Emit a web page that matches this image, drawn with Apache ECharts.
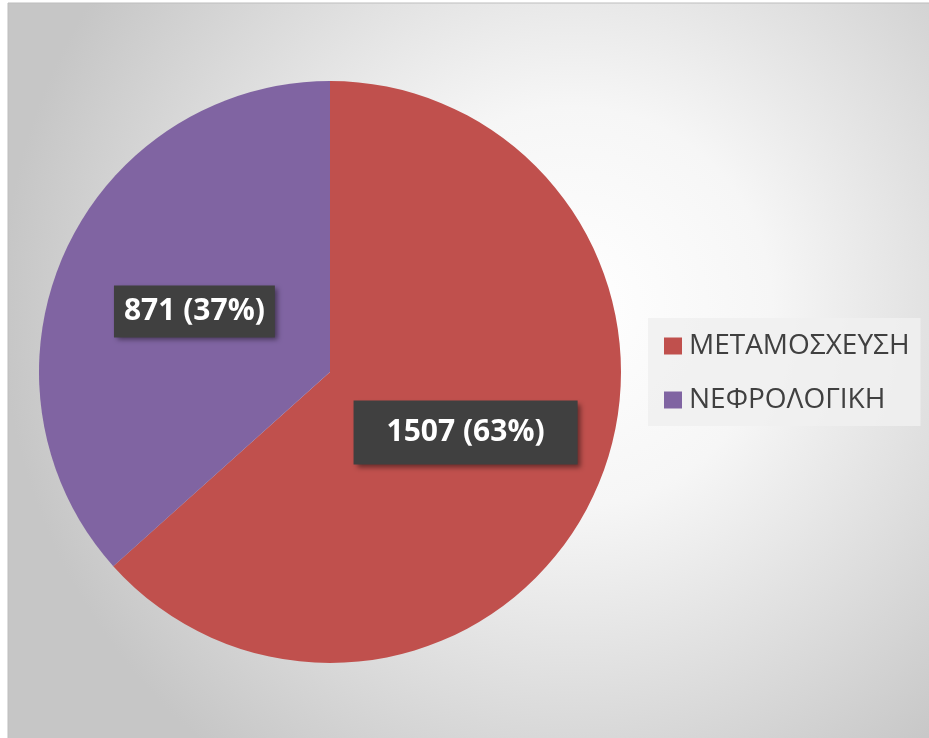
<!DOCTYPE html>
<html>
<head>
<meta charset="utf-8">
<script src="https://cdn.jsdelivr.net/npm/echarts@6/dist/echarts.min.js"></script>
<style>
  html, body { margin: 0; padding: 0; background: #fff; }
  #chart { width: 929px; height: 738px; }
</style>
</head>
<body>
<div id="chart"></div>
<script>
// data
const categories = ['ΜΕΤΑΜΟΣΧΕΥΣΗ', 'ΝΕΦΡΟΛΟΓΙΚΗ'];
const values = [1507, 871];
const colors = ['#C0504D', '#8064A2'];
const labelPadding = [[17, 33], [11, 10]];

const chart = echarts.init(document.getElementById('chart'));

const options = {
    animation: false,
    backgroundColor: '#ffffff',
    graphic: [
        {
            type: 'rect',
            z: -10,
            shape: { x: 8, y: 3, width: 940, height: 760 },
            style: {
                fill: new echarts.graphic.RadialGradient(0.6, 0.4, 0.75, [
                    { offset: 0, color: '#ffffff' },
                    { offset: 0.35, color: '#f6f6f6' },
                    { offset: 1, color: '#c6c6c6' }
                ]),
                stroke: '#bdbdbd',
                lineWidth: 1
            }
        }
    ],
    legend: {
        orient: 'vertical',
        left: 648,
        top: 318,
        backgroundColor: 'rgba(240,240,240,0.85)',
        padding: [14, 11, 12, 16],
        itemGap: 26,
        itemWidth: 18,
        itemHeight: 17,
        icon: 'rect',
        textStyle: {
            fontFamily: 'Open Sans',
            fontSize: 28,
            color: '#404040',
            padding: [0, 0, 0, 2]
        },
        data: categories
    },
    series: [
        {
            type: 'pie',
            center: [330, 372],
            radius: [0, 291],
            startAngle: 90,
            clockwise: true,
            silent: true,
            itemStyle: { borderWidth: 0 },
            label: {
                show: true,
                position: 'inside',
                formatter: (p) => p.value + ' (' + Math.round(p.percent) + '%)',
                color: '#ffffff',
                fontFamily: 'Open Sans',
                fontWeight: 'bold',
                fontSize: 30,
                lineHeight: 30,
                backgroundColor: '#404040',
                shadowColor: 'rgba(0,0,0,0.45)',
                shadowBlur: 5,
                shadowOffsetX: 3,
                shadowOffsetY: 3
            },
            labelLine: { show: false },
            data: categories.map((name, i) => ({
                name: name,
                value: values[i],
                itemStyle: { color: colors[i] },
                label: { padding: labelPadding[i] }
            }))
        }
    ]
};

chart.setOption(options);
</script>
</body>
</html>
